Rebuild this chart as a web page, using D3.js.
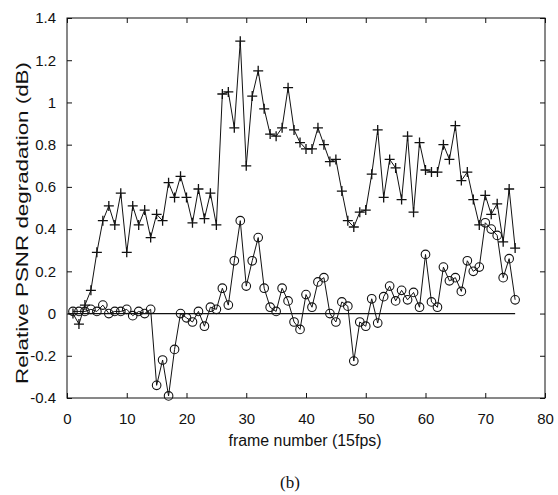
<!DOCTYPE html>
<html>
<head>
<meta charset="utf-8">
<script src="https://cdn.jsdelivr.net/npm/d3@7"></script>
<style>
  body { margin: 0; background: #fff; }
  .axis text { font-family: Arial, "Liberation Sans", sans-serif; font-size: 15px; fill: #111; }
  .axis line { stroke: #111; }
  .axis path { display: none; }
</style>
</head>
<body>
<div id="chart"></div>
<script>
// relative PSNR degradation per frame (frames 1..75)
const PLUS_SERIES = [
  0.00, -0.05, 0.04, 0.11, 0.29, 0.44, 0.51, 0.42, 0.57, 0.29,
  0.51, 0.42, 0.49, 0.36, 0.47, 0.44, 0.62, 0.55, 0.65, 0.55,
  0.43, 0.59, 0.45, 0.57, 0.42, 1.04, 1.05, 0.88, 1.29, 0.70,
  1.03, 1.15, 0.97, 0.85, 0.84, 0.88, 1.07, 0.87, 0.81, 0.78,
  0.78, 0.88, 0.80, 0.72, 0.73, 0.58, 0.44, 0.41, 0.48, 0.49,
  0.66, 0.87, 0.55, 0.73, 0.69, 0.54, 0.84, 0.48, 0.81, 0.68,
  0.67, 0.67, 0.80, 0.73, 0.89, 0.63, 0.67, 0.54, 0.42, 0.56,
  0.47, 0.52, 0.34, 0.59, 0.31
];
const CIRCLE_SERIES = [
  0.01, 0.01, 0.01, 0.02, 0.01, 0.04, 0.00, 0.01, 0.01, 0.02,
  -0.01, 0.01, 0.00, 0.02, -0.34, -0.22, -0.39, -0.17, 0.00, -0.02,
  -0.04, 0.01, -0.06, 0.03, 0.02, 0.12, 0.04, 0.25, 0.44, 0.13,
  0.25, 0.36, 0.12, 0.03, 0.01, 0.12, 0.06, -0.04, -0.075, 0.09,
  0.03, 0.15, 0.17, 0.00, -0.04, 0.055, 0.035, -0.225, -0.04, -0.06,
  0.07, -0.045, 0.08, 0.13, 0.06, 0.11, 0.065, 0.10, 0.03, 0.28,
  0.055, 0.03, 0.22, 0.155, 0.17, 0.105, 0.25, 0.20, 0.22, 0.43,
  0.40, 0.37, 0.17, 0.26, 0.065
];
const X_TICKS = [0, 10, 20, 30, 40, 50, 60, 70, 80];
const Y_TICKS = [-0.4, -0.2, 0, 0.2, 0.4, 0.6, 0.8, 1, 1.2, 1.4];

const W = 558, H = 495;
const m = { top: 18, right: 13, bottom: 97, left: 67 };
const iw = W - m.left - m.right;
const ih = H - m.top - m.bottom;
const INK = '#111';
const SANS = 'Arial, "Liberation Sans", sans-serif';

const svg = d3.select('#chart').append('svg')
  .attr('width', W).attr('height', H)
  .attr('viewBox', `0 0 ${W} ${H}`);

const g = svg.append('g').attr('transform', `translate(${m.left},${m.top})`);

const x = d3.scaleLinear().domain([0, 80]).range([0, iw]);
const y = d3.scaleLinear().domain([-0.4, 1.4]).range([ih, 0]);

// frame box
g.append('rect')
  .attr('width', iw).attr('height', ih)
  .attr('fill', 'none').attr('stroke', INK).attr('stroke-width', 1);

// axes, ticks pointing inward
g.append('g').attr('class', 'axis')
  .attr('transform', `translate(0,${ih})`)
  .call(d3.axisBottom(x).tickValues(X_TICKS).tickSize(-5).tickPadding(15).tickFormat(d3.format('d')));
g.append('g').attr('class', 'axis')
  .call(d3.axisTop(x).tickValues(X_TICKS).tickSize(-5).tickFormat(''));
g.append('g').attr('class', 'axis')
  .call(d3.axisLeft(y).tickValues(Y_TICKS).tickSize(-5).tickPadding(11).tickFormat(d => String(+d.toFixed(1))));
g.append('g').attr('class', 'axis')
  .attr('transform', `translate(${iw},0)`)
  .call(d3.axisRight(y).tickValues(Y_TICKS).tickSize(-5).tickFormat(''));

// axis titles
svg.append('text')
  .attr('x', m.left + iw / 2 - 1).attr('y', 446)
  .attr('text-anchor', 'middle')
  .attr('font-family', SANS)
  .attr('font-size', '16px').attr('fill', INK)
  .attr('textLength', 153).attr('lengthAdjust', 'spacingAndGlyphs')
  .text('frame number (15fps)');

svg.append('text')
  .attr('transform', 'translate(28,223) rotate(-90)')
  .attr('text-anchor', 'middle')
  .attr('font-family', SANS)
  .attr('font-size', '16px').attr('fill', INK)
  .attr('textLength', 322).attr('lengthAdjust', 'spacingAndGlyphs')
  .text('Relative PSNR degradation (dB)');

svg.append('text')
  .attr('x', 290).attr('y', 488)
  .attr('text-anchor', 'middle')
  .attr('font-family', '"Liberation Serif", "DejaVu Serif", serif')
  .attr('font-size', '17px').attr('fill', INK)
  .text('(b)');

const plus = PLUS_SERIES.map((v, i) => ({ f: i + 1, v }));
const circ = CIRCLE_SERIES.map((v, i) => ({ f: i + 1, v }));

const line = d3.line().x(d => x(d.f)).y(d => y(d.v));

// zero reference line
g.append('path')
  .datum([{ f: 1, v: 0 }, { f: 75, v: 0 }])
  .attr('fill', 'none').attr('stroke', INK).attr('stroke-width', 1.2)
  .attr('d', line);

g.append('path')
  .datum(plus)
  .attr('fill', 'none').attr('stroke', INK).attr('stroke-width', 1)
  .attr('d', line);

g.append('path')
  .datum(circ)
  .attr('fill', 'none').attr('stroke', INK).attr('stroke-width', 1)
  .attr('d', line);

const s = 5;
g.selectAll('path.plus')
  .data(plus)
  .join('path')
  .attr('class', 'plus')
  .attr('d', d => `M${x(d.f) - s},${y(d.v)}H${x(d.f) + s}M${x(d.f)},${y(d.v) - s}V${y(d.v) + s}`)
  .attr('stroke', INK).attr('stroke-width', 1.3);

g.selectAll('circle.circ')
  .data(circ)
  .join('circle')
  .attr('class', 'circ')
  .attr('cx', d => x(d.f))
  .attr('cy', d => y(d.v))
  .attr('r', 4.3)
  .attr('fill', 'none')
  .attr('stroke', INK).attr('stroke-width', 1.1);
</script>
</body>
</html>
